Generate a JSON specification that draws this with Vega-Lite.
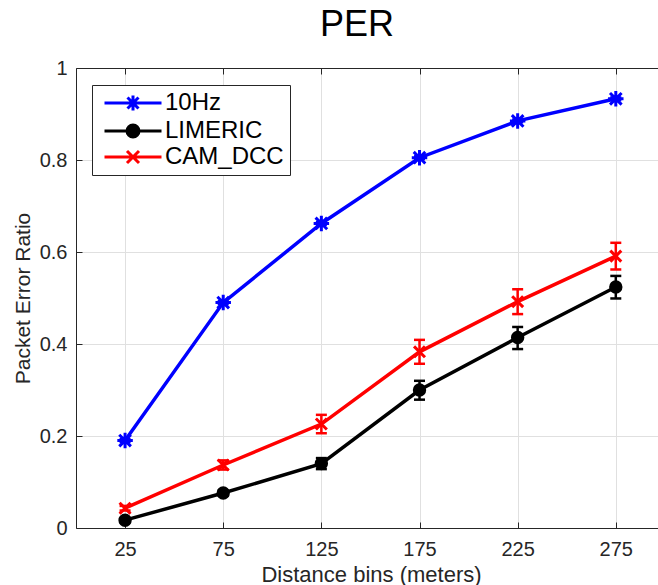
{
  "$schema": "https://vega.github.io/schema/vega-lite/v6.json",
  "width": 582,
  "height": 460,
  "autosize": {"type": "none"},
  "padding": {"left": 76, "top": 68, "right": 0, "bottom": 57},
  "background": "#ffffff",
  "config": {
    "view": {"stroke": null},
    "font": "Liberation Sans"
  },
  "title": {
    "text": "PER",
    "fontSize": 36,
    "font": "Liberation Sans",
    "fontWeight": "normal",
    "color": "#000000",
    "anchor": "middle",
    "frame": "group",
    "offset": 14,
    "dx": -10
  },
  "data": {
    "values": [
      {"series": "10Hz", "d": 25, "y": 0.19, "lo": 0.187, "hi": 0.193},
      {"series": "10Hz", "d": 75, "y": 0.49, "lo": 0.487, "hi": 0.493},
      {"series": "10Hz", "d": 125, "y": 0.662, "lo": 0.659, "hi": 0.665},
      {"series": "10Hz", "d": 175, "y": 0.805, "lo": 0.802, "hi": 0.808},
      {"series": "10Hz", "d": 225, "y": 0.885, "lo": 0.882, "hi": 0.888},
      {"series": "10Hz", "d": 275, "y": 0.933, "lo": 0.93, "hi": 0.936},
      {"series": "LIMERIC", "d": 25, "y": 0.017, "lo": 0.012, "hi": 0.022},
      {"series": "LIMERIC", "d": 75, "y": 0.076, "lo": 0.07, "hi": 0.082},
      {"series": "LIMERIC", "d": 125, "y": 0.14, "lo": 0.128, "hi": 0.152},
      {"series": "LIMERIC", "d": 175, "y": 0.3, "lo": 0.279, "hi": 0.32},
      {"series": "LIMERIC", "d": 225, "y": 0.414, "lo": 0.389, "hi": 0.437},
      {"series": "LIMERIC", "d": 275, "y": 0.524, "lo": 0.499, "hi": 0.548},
      {"series": "CAM_DCC", "d": 25, "y": 0.043, "lo": 0.038, "hi": 0.048},
      {"series": "CAM_DCC", "d": 75, "y": 0.137, "lo": 0.127, "hi": 0.147},
      {"series": "CAM_DCC", "d": 125, "y": 0.226, "lo": 0.206, "hi": 0.246},
      {"series": "CAM_DCC", "d": 175, "y": 0.383, "lo": 0.357, "hi": 0.409},
      {"series": "CAM_DCC", "d": 225, "y": 0.492, "lo": 0.465, "hi": 0.519},
      {"series": "CAM_DCC", "d": 275, "y": 0.591, "lo": 0.562, "hi": 0.62}
    ]
  },
  "resolve": {"axis": {"x": "independent", "y": "independent"}},
  "encoding": {
    "x": {
      "field": "d", "type": "quantitative",
      "scale": {"domain": [0, 296.5], "nice": false, "zero": false},
      "axis": null
    },
    "color": {
      "field": "series", "type": "nominal",
      "scale": {"domain": ["10Hz", "LIMERIC", "CAM_DCC"], "range": ["#0000ff", "#000000", "#ff0000"]},
      "legend": {
        "orient": "none", "legendX": 16, "legendY": 17,
        "title": null,
        "padding": 6,
        "fillColor": "#ffffff",
        "strokeColor": "#262626",
        "labelFont": "Liberation Sans", "labelFontSize": 24, "labelColor": "#000000",
        "labelLimit": 400,
        "symbolSize": 100,
        "symbolStrokeWidth": 3,
        "symbolOpacity": 1,
        "symbolOffset": 23,
        "labelOffset": 20,
        "rowPadding": 2,
        "symbolType": {"expr": "datum.value === '10Hz' ? 'M-5.7,0L5.7,0M0,-1.5L0,1.5M-1.1,-1.1L1.1,1.1M-1.1,1.1L1.1,-1.1' : datum.value === 'LIMERIC' ? 'M-5.7,0L5.7,0M-1.2,0A1.2,1.2,0,1,1,1.2,0A1.2,1.2,0,1,1,-1.2,0Z' : 'M-5.7,0L5.7,0M-1.2,-1.2L1.2,1.2M-1.2,1.2L1.2,-1.2'"},
        "symbolFillColor": {"expr": "datum.value === 'LIMERIC' ? '#000000' : 'transparent'"},
        "symbolStrokeColor": {"expr": "datum.value === '10Hz' ? '#0000ff' : datum.value === 'LIMERIC' ? '#000000' : '#ff0000'"}
      }
    }
  },
  "layer": [
    {
      "mark": {"type": "rule", "strokeWidth": 2.5, "opacity": 1},
      "encoding": {
        "x": {
          "field": "d", "type": "quantitative",
          "axis": {
            "orient": "bottom",
            "values": [25, 75, 125, 175, 225, 275],
            "grid": true, "gridColor": "#e0e0e0", "gridWidth": 1,
            "domainColor": "#262626", "domainWidth": 1,
            "tickColor": "#262626", "tickSize": -6, "tickWidth": 1,
            "labelFont": "Liberation Sans", "labelFontSize": 20, "labelColor": "#262626",
            "labelBaseline": "alphabetic", "labelPadding": 33,
            "labelFlush": false, "labelOverlap": false,
            "title": "Distance bins (meters)",
            "titleFont": "Liberation Sans", "titleFontSize": 22, "titleFontWeight": "normal",
            "titleColor": "#262626", "titleBaseline": "alphabetic", "titleY": 53, "titleX": 295
          }
        },
        "y": {
          "field": "lo", "type": "quantitative",
          "scale": {"domain": [0, 1], "nice": false, "zero": false},
          "axis": {
            "orient": "left",
            "values": [0, 0.2, 0.4, 0.6, 0.8, 1],
            "format": "~g",
            "grid": true, "gridColor": "#e0e0e0", "gridWidth": 1,
            "domainColor": "#262626", "domainWidth": 1,
            "tickColor": "#262626", "tickSize": -6, "tickWidth": 1,
            "labelFont": "Liberation Sans", "labelFontSize": 20, "labelColor": "#262626",
            "labelPadding": 15, "labelOverlap": false, "labelFlush": false,
            "title": "Packet Error Ratio",
            "titleFont": "Liberation Sans", "titleFontSize": 21, "titleFontWeight": "normal",
            "titleColor": "#262626", "titleBaseline": "alphabetic", "titleX": -47
          }
        },
        "y2": {"field": "hi"}
      }
    },
    {
      "mark": {"type": "tick", "orient": "horizontal", "size": 11, "thickness": 2.5, "opacity": 1},
      "encoding": {
        "x": {"field": "d", "type": "quantitative", "axis": {
          "orient": "top", "values": [25, 75, 125, 175, 225, 275],
          "labels": false, "grid": false, "title": null,
          "domainColor": "#262626", "domainWidth": 1,
          "tickColor": "#262626", "tickSize": -6, "tickWidth": 1
        }},
        "y": {"field": "lo", "type": "quantitative", "axis": null}
      }
    },
    {
      "mark": {"type": "tick", "orient": "horizontal", "size": 11, "thickness": 2.5, "opacity": 1},
      "encoding": {
        "y": {"field": "hi", "type": "quantitative", "axis": null}
      }
    },
    {
      "mark": {"type": "line", "strokeWidth": 3.5, "opacity": 1},
      "encoding": {
        "y": {"field": "y", "type": "quantitative", "axis": null}
      }
    },
    {
      "transform": [{"filter": "datum.series === '10Hz'"}],
      "mark": {"type": "point", "filled": false, "strokeWidth": 3, "opacity": 1, "size": 240, "shape": "M-1,0L1,0M0,-1L0,1M-0.75,-0.75L0.75,0.75M-0.75,0.75L0.75,-0.75"},
      "encoding": {
        "y": {"field": "y", "type": "quantitative", "axis": null}
      }
    },
    {
      "transform": [{"filter": "datum.series === 'LIMERIC'"}],
      "mark": {"type": "point", "filled": false, "fill": "#000000", "strokeWidth": 2, "opacity": 1, "size": 130, "shape": "circle"},
      "encoding": {
        "y": {"field": "y", "type": "quantitative", "axis": null}
      }
    },
    {
      "transform": [{"filter": "datum.series === 'CAM_DCC'"}],
      "mark": {"type": "point", "filled": false, "strokeWidth": 3, "opacity": 1, "size": 120, "shape": "M-1,-1L1,1M-1,1L1,-1"},
      "encoding": {
        "y": {"field": "y", "type": "quantitative", "axis": null}
      }
    }
  ]
}
